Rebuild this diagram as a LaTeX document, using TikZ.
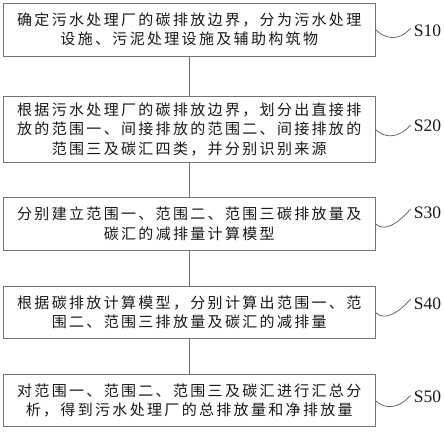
\documentclass[tikz,border=0pt]{standalone}
\usepackage{fontspec}
\newfontfamily\cjk[LetterSpace=15.5]{Noto Sans CJK SC}
\newfontfamily\labfont{Liberation Serif}
\begin{document}
\begin{tikzpicture}[x=1pt,y=-1pt,
  stepbox/.style={draw=black!55,line width=0.8pt,minimum width=371.5pt,inner sep=0pt,
    align=center,text=black!90,font={\cjk\fontsize{15}{19.5}\selectfont}},
  link/.style={draw=black!55,line width=0.7pt},
  wave/.style={draw=black!65,line width=0.7pt},
  steplabel/.style={anchor=center,inner sep=0pt,text=black!90,font={\labfont\fontsize{17.5}{18}\selectfont}}]
\useasboundingbox[fill=white] (0,0) rectangle (444,432);
\node[stepbox,minimum height=53pt] (b1) at (189.25,29.5) {确定污水处理厂的碳排放边界，分为污水处理\\设施、污泥处理设施及辅助构筑物};
\node[stepbox,minimum height=66.5pt] (b2) at (189.25,129.3) {根据污水处理厂的碳排放边界，划分出直接排\\放的范围一、间接排放的范围二、间接排放的\\范围三及碳汇四类，并分别识别来源};
\node[stepbox,minimum height=53.5pt] (b3) at (189.25,223.7) {分别建立范围一、范围二、范围三碳排放量及\\碳汇的减排量计算模型};
\node[stepbox,minimum height=52pt] (b4) at (189.25,312.4) {根据碳排放计算模型，分别计算出范围一、范\\围二、范围三排放量及碳汇的减排量};
\node[stepbox,minimum height=52.4pt] (b5) at (189.25,400.5) {对范围一、范围二、范围三及碳汇进行汇总分\\析，得到污水处理厂的总排放量和净排放量};
\draw[link] (b1.south) -- (b2.north);
\draw[link] (b2.south) -- (b3.north);
\draw[link] (b3.south) -- (b4.north);
\draw[link] (b4.south) -- (b5.north);
\node[steplabel] (l1) at (427.5,31) {S10};
\node[steplabel] (l2) at (427.5,125.7) {S20};
\node[steplabel] (l3) at (427.5,212.7) {S30};
\node[steplabel] (l4) at (427.5,304) {S40};
\node[steplabel] (l5) at (427.5,396.3) {S50};
\coordinate (e1) at (410.5,28.3);
\coordinate (e2) at (410.5,125);
\coordinate (e3) at (410.5,209);
\coordinate (e4) at (410.5,299);
\coordinate (e5) at (410.5,395.3);
\draw[wave] (b1.east) .. controls +(9,9) and +(-12,14) .. (e1);
\draw[wave] (b2.east) .. controls +(9,9) and +(-12,14) .. (e2);
\draw[wave] (b3.east) .. controls +(9,9) and +(-12,14) .. (e3);
\draw[wave] (b4.east) .. controls +(9,9) and +(-12,14) .. (e4);
\draw[wave] (b5.east) .. controls +(9,9) and +(-12,14) .. (e5);
\end{tikzpicture}
\end{document}
